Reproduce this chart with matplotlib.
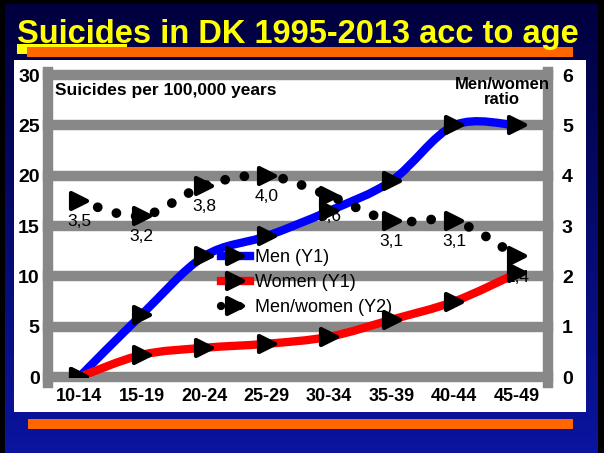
import numpy as np
import matplotlib.pyplot as plt
from matplotlib.path import Path
from matplotlib.patches import PathPatch, Rectangle
from matplotlib.markers import MarkerStyle
from matplotlib.lines import Line2D

plt.rcParams['font.family'] = ['Liberation Sans', 'DejaVu Sans']

# data
ages = ['10-14', '15-19', '20-24', '25-29', '30-34', '35-39', '40-44', '45-49']
men = [0, 6.2, 12, 14, 16.5, 19.5, 25, 25]
women = [0, 2.2, 2.9, 3.3, 4.0, 5.7, 7.5, 10.3]
ratio = [3.5, 3.2, 3.8, 4.0, 3.6, 3.1, 3.1, 2.4]
ratio_labels = ['3,5', '3,2', '3,8', '4,0', '3,6', '3,1', '3,1', '2,4']
left_ticks = [0, 5, 10, 15, 20, 25, 30]
right_ticks = [0, 1, 2, 3, 4, 5, 6]

W, H = 604, 453
fig = plt.figure(figsize=(W / 100, H / 100), dpi=100)


def px(x, y):
    return x / W, 1 - y / H


# slide background
bg = fig.add_axes([0, 0, 1, 1])
bg.set_xlim(0, W)
bg.set_ylim(H, 0)
bg.axis('off')
g = np.linspace(0, 1, 256)[:, None, None]
top = np.array([0.0, 0.0, 0.24])
bot = np.array([0.04, 0.08, 0.62])
bg.imshow(top + (bot - top) * g, extent=[0, W, H, 0], aspect='auto')
for r in [(0, 0, 5, H), (598, 0, 6, H), (0, 0, W, 4)]:
    bg.add_patch(Rectangle(r[:2], r[2], r[3], color='black', lw=0))
bg.add_patch(Rectangle((14, 60), 572, 352, color='white', lw=0))
bg.add_patch(Rectangle((28, 419), 545, 10, color='#FF6600', lw=0))
bg.add_patch(Rectangle((17, 44), 110, 3.5, color='#FFFF00', lw=0))
bg.add_patch(Rectangle((17, 44), 10, 10, color='#FFFF00', lw=0))
bg.add_patch(Rectangle((27, 47), 546, 10, color='#FF6600', lw=0))
bg.text(17, 43, 'Suicides in DK 1995-2013 acc to age', color='#FFFF00',
        fontsize=23.5, fontweight='bold', va='baseline', ha='left')

# chart
ax = fig.add_axes([48 / W, (H - 377) / H, 500 / W, 302 / H])
ax.set_xlim(-0.5, 7.5)
ax.set_ylim(0, 30)
ax.patch.set_visible(False)
for s in ax.spines.values():
    s.set_visible(False)
for v in left_ticks:
    ax.axhline(v, color='#888888', lw=7.5, zorder=1, clip_on=False)
for xv in [-0.5, 7.5]:
    ax.axvline(xv, ymin=-0.02, ymax=1.01, color='#888888', lw=7.5, zorder=1,
               clip_on=False)
ax.set_yticks(left_ticks)
ax.set_xticks(range(len(ages)))
ax.set_xticklabels(ages)
ax.tick_params(length=0)
ax.tick_params(axis='y', labelsize=14, pad=6)
ax.tick_params(axis='x', labelsize=13, pad=8)
for t in ax.get_xticklabels() + ax.get_yticklabels():
    t.set_fontweight('bold')

ax2 = ax.twinx()
ax2.set_ylim(0, 6)
ax2.set_yticks(right_ticks)
ax2.tick_params(length=0, labelsize=14, pad=10)
for t in ax2.get_yticklabels():
    t.set_fontweight('bold')
for s in ax2.spines.values():
    s.set_visible(False)


def smooth_path(xs, ys, k=1 / 6):
    pts = np.column_stack([xs, ys]).astype(float)
    n = len(pts)
    verts, codes = [pts[0]], [Path.MOVETO]
    for i in range(n - 1):
        p0 = pts[max(i - 1, 0)]
        p1, p2 = pts[i], pts[i + 1]
        p3 = pts[min(i + 2, n - 1)]
        verts += [p1 + (p2 - p0) * k, p2 - (p3 - p1) * k, p2]
        codes += [Path.CURVE4] * 3
    return Path(verts, codes)


xs = np.arange(len(ages))
tri = MarkerStyle('>', joinstyle='round')

ax.add_patch(PathPatch(smooth_path(xs, men), fill=False, ec='#0000FF', lw=6,
                       capstyle='round', joinstyle='round', zorder=3))
ax.add_patch(PathPatch(smooth_path(xs, women), fill=False, ec='#FF0000', lw=6,
                       capstyle='round', joinstyle='round', zorder=3))
ax.plot(xs, men, ls='none', marker=tri, ms=12, mfc='k', mec='k', mew=3, zorder=5)
ax.plot(xs, women, ls='none', marker=tri, ms=12, mfc='k', mec='k', mew=3, zorder=5)

ax2.add_patch(PathPatch(smooth_path(xs, ratio), fill=False, ec='black', lw=7,
                        ls=(0, (0.01, 2.0)), capstyle='round', zorder=3))
ax2.plot(xs, ratio, ls='none', marker=tri, ms=12, mfc='k', mec='k', mew=3, zorder=5)
for i, (r, lab) in enumerate(zip(ratio, ratio_labels)):
    ax2.annotate(lab, (i, r), xytext=(0, -15), textcoords='offset points',
                 ha='center', va='center', fontsize=12.5, zorder=6)

handles = [
    Line2D([], [], color='#0000FF', lw=6, marker=tri, ms=11, mfc='k', mec='k', mew=3),
    Line2D([], [], color='#FF0000', lw=6, marker=tri, ms=11, mfc='k', mec='k', mew=3),
    Line2D([], [], color='black', lw=6, ls=(0, (0.01, 2.2)), dash_capstyle='round',
           marker=tri, ms=11, mfc='k', mec='k', mew=3),
]
ax2.legend(handles, ['Men (Y1)', 'Women (Y1)', 'Men/women (Y2)'],
           loc='upper left', bbox_to_anchor=px(212, 240),
           bbox_transform=fig.transFigure, frameon=False, fontsize=13,
           handlelength=1.6, handletextpad=0.3, labelspacing=0.45, borderpad=0)

fig.text(*px(55, 91), 'Suicides per 100,000 years', fontsize=12.5,
         fontweight='bold', ha='left', va='center')
fig.text(*px(502, 92), 'Men/women\nratio', fontsize=12, fontweight='bold',
         ha='center', va='center', linespacing=1.0)

fig.savefig('out.png', dpi=100)
